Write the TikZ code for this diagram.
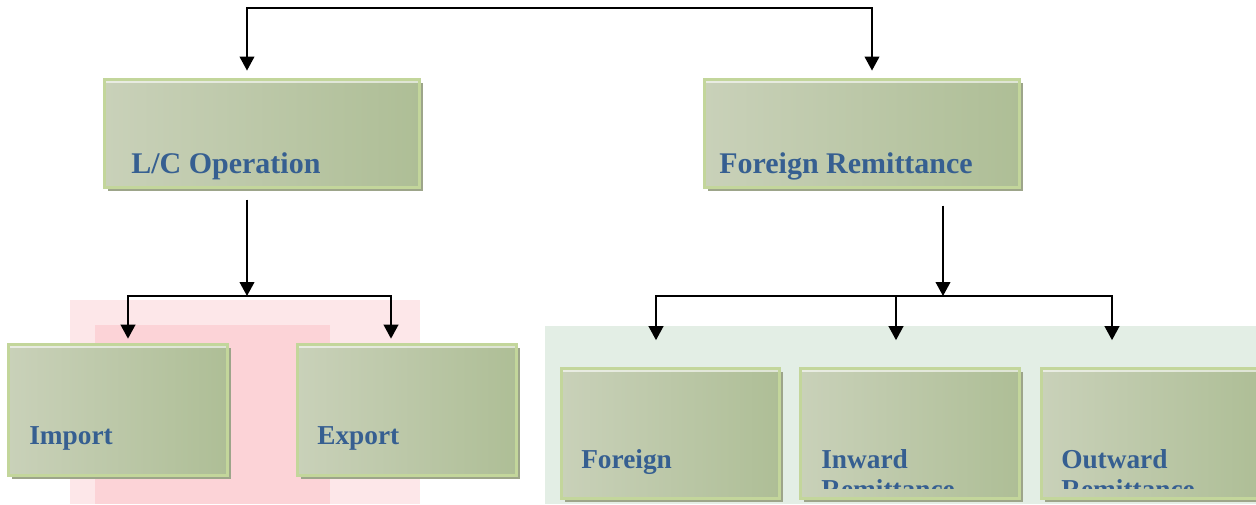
\documentclass[tikz,border=0pt]{standalone}
\usepackage{fontspec}
\setmainfont{Liberation Serif}
\usetikzlibrary{arrows.meta,shadows}
\definecolor{boxline}{HTML}{C3D69B}
\definecolor{boxlight}{HTML}{C9D1B9}
\definecolor{boxdark}{HTML}{AEBE96}
\definecolor{shadowc}{HTML}{9DA58A}
\definecolor{textblue}{HTML}{365F91}
\definecolor{bgpink}{HTML}{FCD3D7}
\definecolor{bggreen}{HTML}{E3EEE5}
\begin{document}
\begin{tikzpicture}[x=.75pt, y=-.75pt, >={Triangle[width=11pt,length=10.5pt]}]
    \tikzstyle{box} = [draw=boxline, line width=2.2pt, inner sep=0pt, left color=boxlight, right color=boxdark,
        drop shadow={shadow xshift=2.5pt, shadow yshift=-2.5pt, fill=shadowc, opacity=1},
        path picture={\draw[white, opacity=.6, line width=1.5pt] ([yshift=-2pt]path picture bounding box.north west) -- ([yshift=-2pt]path picture bounding box.north east);}]
    \tikzstyle{bigbox} = [box, minimum width=236pt, minimum height=81pt]
    \tikzstyle{smallbox} = [box, minimum width=164pt, minimum height=98pt]
    \tikzstyle{toptext} = [anchor=base west, inner sep=0pt, text=textblue, font=\fontsize{22.5}{27}\selectfont\bfseries]
    \tikzstyle{lowtext} = [anchor=base west, inner sep=0pt, text=textblue, align=left, font=\fontsize{20.5}{22.5}\selectfont\bfseries]
    \tikzstyle{link} = [line width=1.4pt, black]

    \useasboundingbox (0,0) rectangle (1256,504);
    \fill[bgpink!55] (70,300) rectangle (420,504);
    \fill[bgpink] (95,325) rectangle (330,504);
    \fill[bggreen] (545,326) rectangle (1256,504);

    \node[bigbox] (lc) at (262,133.5) {};
    \node[bigbox] (fr) at (862,133.5) {};
    \node[smallbox] (imp) at (118,410) {};
    \node[smallbox] (exp) at (407,410) {};
    \node[smallbox] (frg) at (670.5,433.5) {};
    \node[smallbox] (inw) at (910,433.5) {};
    \node[smallbox] (outw) at (1151,433.5) {};

    \node[toptext] (lctxt) at (131,173) {L/C Operation};
    \node[toptext] (frtxt) at (719,173) {Foreign Remittance};
    \node[lowtext] (imptxt) at (29,444) {Import};
    \node[lowtext] (exptxt) at (317,444) {Export};
    \begin{scope}
        \clip (550,350) rectangle (1256,488);
        \node[lowtext] (frgtxt) at (581,468) {Foreign};
        \node[lowtext] (inwtxt) at (821,498) {Inward\\Remittance};
        \node[lowtext] (outtxt) at (1061,498) {Outward\\Remittance};
    \end{scope}

    \coordinate (topl) at (247,8);
    \coordinate (topr) at (872,8);
    \coordinate (lcj) at (247,296);
    \coordinate (impj) at (128,296);
    \coordinate (expj) at (391,296);
    \coordinate (frj) at (943,296);
    \coordinate (frgj) at (656,296);
    \coordinate (inwj) at (896,296);
    \coordinate (outj) at (1112,296);

    \draw[link, <->, shorten <=5.6pt, shorten >=5.6pt] (lc.north -| topl) -- (topl) -- (topr) -- (fr.north -| topr);
    \draw[link, ->, shorten <=8pt] (lc.south -| lcj) -- (lcj);
    \draw[link, <->, shorten <=3.4pt, shorten >=3.4pt] (imp.north -| impj) -- (impj) -- (expj) -- (exp.north -| expj);
    \draw[link, ->, shorten <=12.4pt] (fr.south -| frj) -- (frj);
    \draw[link, <->, shorten <=19.9pt, shorten >=19.9pt] (frg.north -| frgj) -- (frgj) -- (outj) -- (outw.north -| outj);
    \draw[link, ->, shorten >=19.9pt] (inwj) -- (inw.north -| inwj);
\end{tikzpicture}
\end{document}
